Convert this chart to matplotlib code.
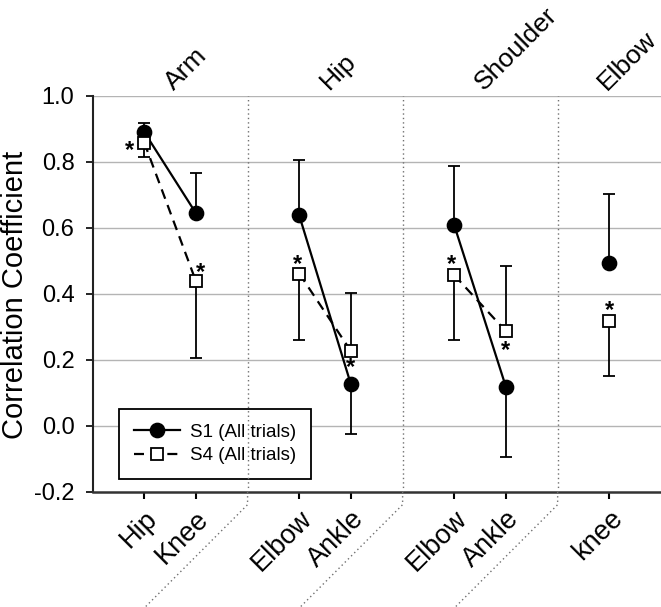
import numpy as np
import matplotlib
matplotlib.use("Agg")
import matplotlib.pyplot as plt
from matplotlib.lines import Line2D

plt.rcParams['font.family'] = ['Liberation Sans', 'DejaVu Sans']

# ---- data ----
groups = ['Arm', 'Hip', 'Shoulder', 'Elbow']
group_sizes = [2, 2, 2, 1]
joint_labels = ['Hip', 'Knee', 'Elbow', 'Ankle', 'Elbow', 'Ankle', 'knee']
s1_values = [0.890, 0.644, 0.637, 0.125, 0.607, 0.117, 0.494]
s1_err_up = [0.026, 0.123, 0.168, 0.0, 0.180, 0.0, 0.207]
s1_err_lo = [0.0, 0.0, 0.0, 0.151, 0.0, 0.213, 0.0]
s4_values = [0.858, 0.438, 0.461, 0.226, 0.456, 0.286, 0.316]
s4_err_up = [0.0, 0.0, 0.0, 0.177, 0.0, 0.198, 0.0]
s4_err_lo = [0.043, 0.234, 0.201, 0.0, 0.196, 0.0, 0.164]
s4_significant = [True, True, True, True, True, True, True]
series_names = ['S1 (All trials)', 'S4 (All trials)']
yticks = [-0.2, 0.0, 0.2, 0.4, 0.6, 0.8, 1.0]

# asterisk offsets (points) relative to S4 points (layout)
star_offsets = [(-10.8, -3.6), (3.6, 7.9), (-1.4, 8.6), (0, -10.1),
                (-2.2, 9.4), (0, -11.5), (0, 10.1)]
group_label_shift = [0.08, 0.09, 0.07, -0.05]

# ---- positions: groups separated by an empty slot ----
xpos = []
group_idx = []
seps = []
cur = 1
for gi, n in enumerate(group_sizes):
    for k in range(n):
        xpos.append(cur)
        group_idx.append(gi)
        cur += 1
    seps.append(cur)
    cur += 1
seps = seps[:-1]
xpos = np.array(xpos, dtype=float)
group_idx = np.array(group_idx)

fig = plt.figure(figsize=(6.61, 6.07), dpi=100)
ax = fig.add_axes([0.14, 0.19, 0.86, 0.6524])
ax.set_xlim(0, 11)
ax.set_ylim(-0.2, 1.0)

# grid
for yv in yticks[1:]:
    ax.axhline(yv, color='#b4b4b4', lw=1.0, zorder=0)

s1 = np.array(s1_values)
s4 = np.array(s4_values)

# error bars
ax.errorbar(xpos, s1, yerr=[s1_err_lo, s1_err_up], fmt='none', ecolor='black',
            elinewidth=1.3, capsize=4.3, capthick=1.3, zorder=2)
ax.errorbar(xpos, s4, yerr=[s4_err_lo, s4_err_up], fmt='none', ecolor='black',
            elinewidth=1.3, capsize=4.3, capthick=1.3, zorder=2)

# lines within groups
for gi in range(len(groups)):
    m = group_idx == gi
    if m.sum() > 1:
        ax.plot(xpos[m], s1[m], '-', color='black', lw=1.6, zorder=3)
        ax.plot(xpos[m], s4[m], '--', color='black', lw=1.6, dashes=(4.5, 3), zorder=3)

ax.plot(xpos, s1, 'o', ms=10.3, mfc='black', mec='black', ls='none', zorder=4)
ax.plot(xpos, s4, 's', ms=8.5, mfc='white', mec='black', mew=1.3, ls='none', zorder=4)

# asterisks
for x, y, sig, off in zip(xpos, s4, s4_significant, star_offsets):
    if sig:
        ax.annotate('*', (x, y), xytext=(off[0], off[1] - 2.0), textcoords='offset points',
                    ha='center', va='center', fontsize=17, fontweight='bold', zorder=5)

# separators
fig.canvas.draw()
inv = ax.transData.inverted()
for s in seps:
    ax.plot([s, s], [-0.2, 1.0], ls=(0, (1, 2.2)), color='#707070', lw=1.0, zorder=6)
    x0d, y0d = ax.transData.transform((s, -0.2))
    p1 = (x0d, y0d - 13)
    p2 = (x0d - 160, y0d - 13 - 160)
    (ax1, ay1) = inv.transform(p1)
    (ax2, ay2) = inv.transform(p2)
    ax.plot([s, ax1, ax2], [-0.2, ay1, ay2], ls=(0, (1, 2.2)), color='#707070',
            lw=1.0, zorder=6, clip_on=False)

# group labels on top
for gi, g in enumerate(groups):
    m = group_idx == gi
    cx = xpos[m].mean() + group_label_shift[gi]
    ax.text(cx, 1.015, g, rotation=45, rotation_mode='anchor', ha='left', va='baseline',
            fontsize=19)

# axes styling
for sp in ['top', 'right']:
    ax.spines[sp].set_visible(False)
ax.spines['left'].set_linewidth(1.5)
ax.spines['bottom'].set_linewidth(1.8)
ax.spines['left'].set_color('#222222')
ax.spines['bottom'].set_color('#333333')

ax.set_yticks(yticks)
ax.set_yticklabels(['%.1f' % v for v in yticks], fontsize=17)
ax.tick_params(axis='y', direction='out', length=5, width=1.2, pad=8)
ax.set_xticks(xpos)
ax.set_xticklabels(joint_labels, fontsize=19.5, rotation=45, ha='right', rotation_mode='anchor')
ax.tick_params(axis='x', direction='out', length=5, width=1.5, pad=5)

ax.set_ylabel('Correlation Coefficient', fontsize=21)
ax.yaxis.set_label_coords(-0.112, 0.497)

handles = [Line2D([], [], color='black', lw=1.6, marker='o', ms=10.3, mfc='black'),
           Line2D([], [], color='black', lw=1.6, ls='--', dashes=(4.5, 3), marker='s', ms=8.5,
                  mfc='white', mew=1.3)]
leg = ax.legend(handles, series_names, loc='upper left', bbox_to_anchor=(0.0466, 0.209),
                borderaxespad=0, fontsize=13.5, fancybox=False, edgecolor='black',
                framealpha=1, handlelength=2.45, labelspacing=0.35, borderpad=0.78,
                handletextpad=0.55)
leg.get_frame().set_linewidth(1.3)
leg.set_zorder(5)

fig.savefig('out.png', dpi=100)
